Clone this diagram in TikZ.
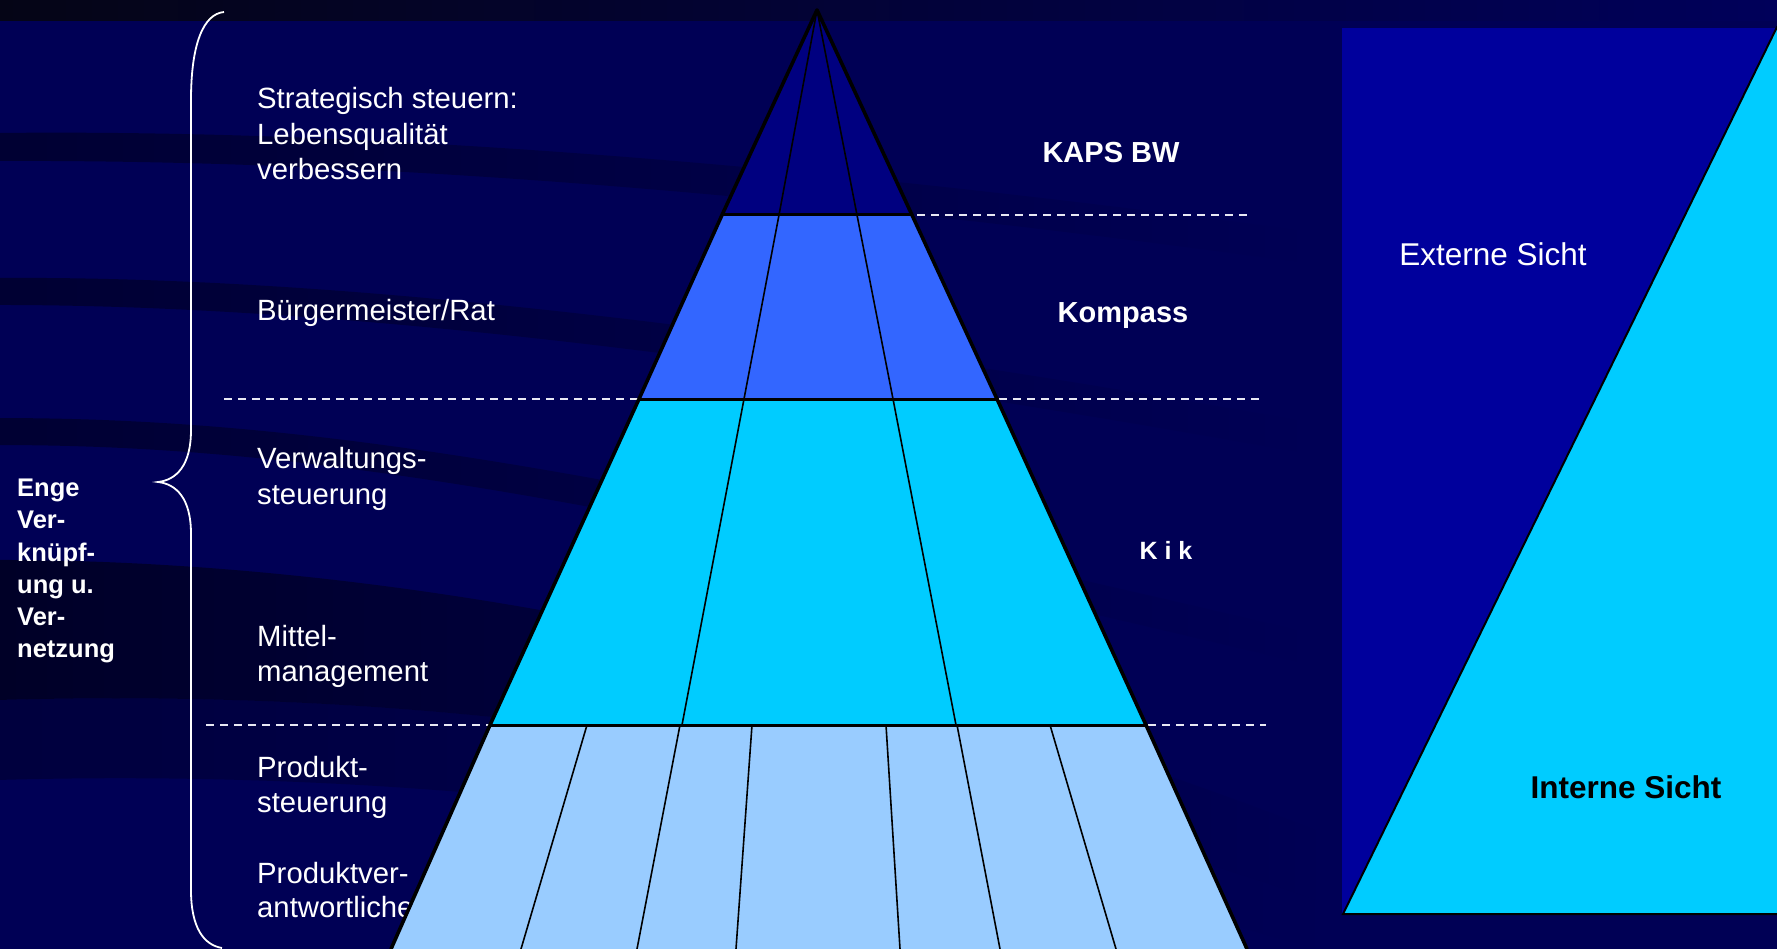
\documentclass[tikz,border=0pt]{standalone}
\usepackage{fontspec}
\setmainfont{Liberation Sans}
\usetikzlibrary{fadings}
\definecolor{bgc}{HTML}{000055}
\definecolor{bandc}{HTML}{00001C}
\definecolor{topl}{HTML}{050516}
\definecolor{topr}{HTML}{00005A}
\definecolor{rectc}{HTML}{00009C}
\definecolor{layA}{HTML}{000080}
\definecolor{layB}{HTML}{3366FF}
\definecolor{layC}{HTML}{00CCFF}
\definecolor{layD}{HTML}{99CCFF}
\definecolor{dashc}{HTML}{E8E8F4}
\tikzfading[name=faderight, left color=transparent!0, middle color=transparent!15, right color=transparent!100]
\begin{document}
\begin{tikzpicture}[x=1pt,y=-1pt,
  lefttext/.style={text=white,font=\fontsize{29.3}{35}\selectfont,inner sep=0pt,anchor=base west},
  boldleft/.style={text=white,font=\bfseries\fontsize{25.5}{32}\selectfont,inner sep=0pt,anchor=base west},
  boldlabel/.style={text=white,font=\bfseries\fontsize{29}{35}\selectfont,inner sep=0pt,anchor=base},
  sidelabel/.style={font=\fontsize{31.5}{36}\selectfont,inner sep=0pt,anchor=base},
  dashline/.style={draw=dashc,line width=2pt,dash pattern=on 8pt off 6pt},
  band/.style={fill=bandc,draw=none,path fading=faderight},
  outeredge/.style={draw=black,line width=3.6pt,line cap=round,line join=round},
  layerline/.style={draw=black,line width=3pt},
  innerline/.style={draw=black,line width=1.6pt},
  bracec/.style={draw=white,line width=1.8pt}
]
\useasboundingbox (0,0) rectangle (1777,949);
% background
\fill[bgc] (0,0) rectangle (1777,949);
\shade[left color=topl,right color=topr] (0,0) rectangle (1777,21);
% dark swooshes (filled bands that fade out towards the right)
\path[band,fill opacity=0.6] (0,133) .. controls (300,130) and (700,150) .. (1300,230)
   -- (1300,262) .. controls (700,180) and (300,160) .. (0,161) -- cycle;
\path[band,fill opacity=0.6] (0,278) .. controls (300,276) and (700,315) .. (1300,420)
   -- (1300,452) .. controls (700,345) and (300,305) .. (0,305) -- cycle;
\path[band,fill opacity=0.6] (0,418) .. controls (300,418) and (600,465) .. (1300,630)
   -- (1300,662) .. controls (600,495) and (300,445) .. (0,445) -- cycle;
\path[band,fill opacity=0.8] (0,560) .. controls (350,560) and (800,630) .. (1320,830)
   -- (1320,900) .. controls (800,720) and (350,690) .. (0,700) -- cycle;
\path[band,fill opacity=0.4] (0,700) .. controls (350,690) and (800,720) .. (1320,900)
   -- (1320,949) .. controls (800,800) and (350,770) .. (0,780) -- cycle;
% right panel
\fill[rectc] (1342,28) rectangle (1790,914);
\filldraw[fill=layC,draw=black,line width=2pt,line join=miter] (1343,914) -- (1777,27) -- (1790,27) -- (1790,914) -- cycle;
% left texts (behind pyramid)
\node[lefttext] (s1) at (257,109) {Strategisch steuern:};
\node[lefttext] (s2) at (257,145) {Lebensqualität};
\node[lefttext] (s3) at (257,180) {verbessern};
\node[lefttext] (br) at (257,321) {Bürgermeister/Rat};
\node[lefttext] (v1) at (257,468) {Verwaltungs-};
\node[lefttext] (v2) at (257,504) {steuerung};
\node[lefttext] (m1) at (257,646) {Mittel-};
\node[lefttext] (m2) at (257,681) {management};
\node[lefttext] (p1) at (257,777) {Produkt-};
\node[lefttext] (p2) at (257,812) {steuerung};
\node[lefttext] (q1) at (257,883) {Produktver-};
\node[lefttext] (q2) at (257,917) {antwortliche};
% dashed separators
\draw[dashline] (917,215) -- (1247,215);
\draw[dashline] (224,399) -- (639,399);
\draw[dashline] (999,399) -- (1260,399);
\draw[dashline] (206,725) -- (490,725);
\draw[dashline] (1148,725) -- (1266,725);
% pyramid
\coordinate (apex) at (817,10);
\coordinate (l1) at (722,215); \coordinate (r1) at (912,215);
\coordinate (l2) at (639,399); \coordinate (r2) at (997,399);
\coordinate (l3) at (490,725); \coordinate (r3) at (1146,725);
\coordinate (l4) at (391,949); \coordinate (r4) at (1247,949);
\fill[layA] (apex) -- (r1) -- (l1) -- cycle;
\fill[layB] (l1) -- (r1) -- (r2) -- (l2) -- cycle;
\fill[layC] (l2) -- (r2) -- (r3) -- (l3) -- cycle;
\fill[layD] (l3) -- (r3) -- (r4) -- (l4) -- cycle;
\draw[innerline] (apex) -- (779,215) -- (744,399) -- (682,725);
\draw[innerline] (apex) -- (857,215) -- (893,399) -- (956,725);
\draw[innerline] (587,725) -- (521,949);
\draw[innerline] (680,725) -- (637,949);
\draw[innerline] (752,725) -- (736,949);
\draw[innerline] (886,725) -- (900,949);
\draw[innerline] (957,725) -- (1000,949);
\draw[innerline] (1050,725) -- (1116,949);
\draw[layerline] (l1) -- (r1);
\draw[layerline] (l2) -- (r2);
\draw[layerline] (l3) -- (r3);
\draw[outeredge] (l4) -- (l3) -- (l2) -- (l1) -- (apex) -- (r1) -- (r2) -- (r3) -- (r4);
% labels right of pyramid
\node[boldlabel] (kaps) at (1111,163) {KAPS BW};
\node[boldlabel] (komp) at (1123,323) {Kompass};
\node[boldlabel,font=\bfseries\fontsize{25}{30}\selectfont] (kik) at (1166,559) {K i k};
\node[sidelabel,text=white] (ext) at (1493,266) {Externe Sicht};
\node[sidelabel,text=black,font=\bfseries\fontsize{31.5}{36}\selectfont] (int) at (1626,798) {Interne Sicht};
% brace
\draw[bracec] (224,12) .. controls (203,14) and (191,45) .. (191,100) -- (191,430)
  .. controls (191,466) and (176,480) .. (158,482)
  .. controls (176,484) and (191,498) .. (191,534) -- (191,890)
  .. controls (191,928) and (204,945) .. (222,948);
% bold block
\node[boldleft] (e1) at (17,496) {Enge};
\node[boldleft] (e2) at (17,528) {Ver-};
\node[boldleft] (e3) at (17,561) {knüpf-};
\node[boldleft] (e4) at (17,593) {ung u.};
\node[boldleft] (e5) at (17,625) {Ver-};
\node[boldleft] (e6) at (17,657) {netzung};
\end{tikzpicture}
\end{document}
